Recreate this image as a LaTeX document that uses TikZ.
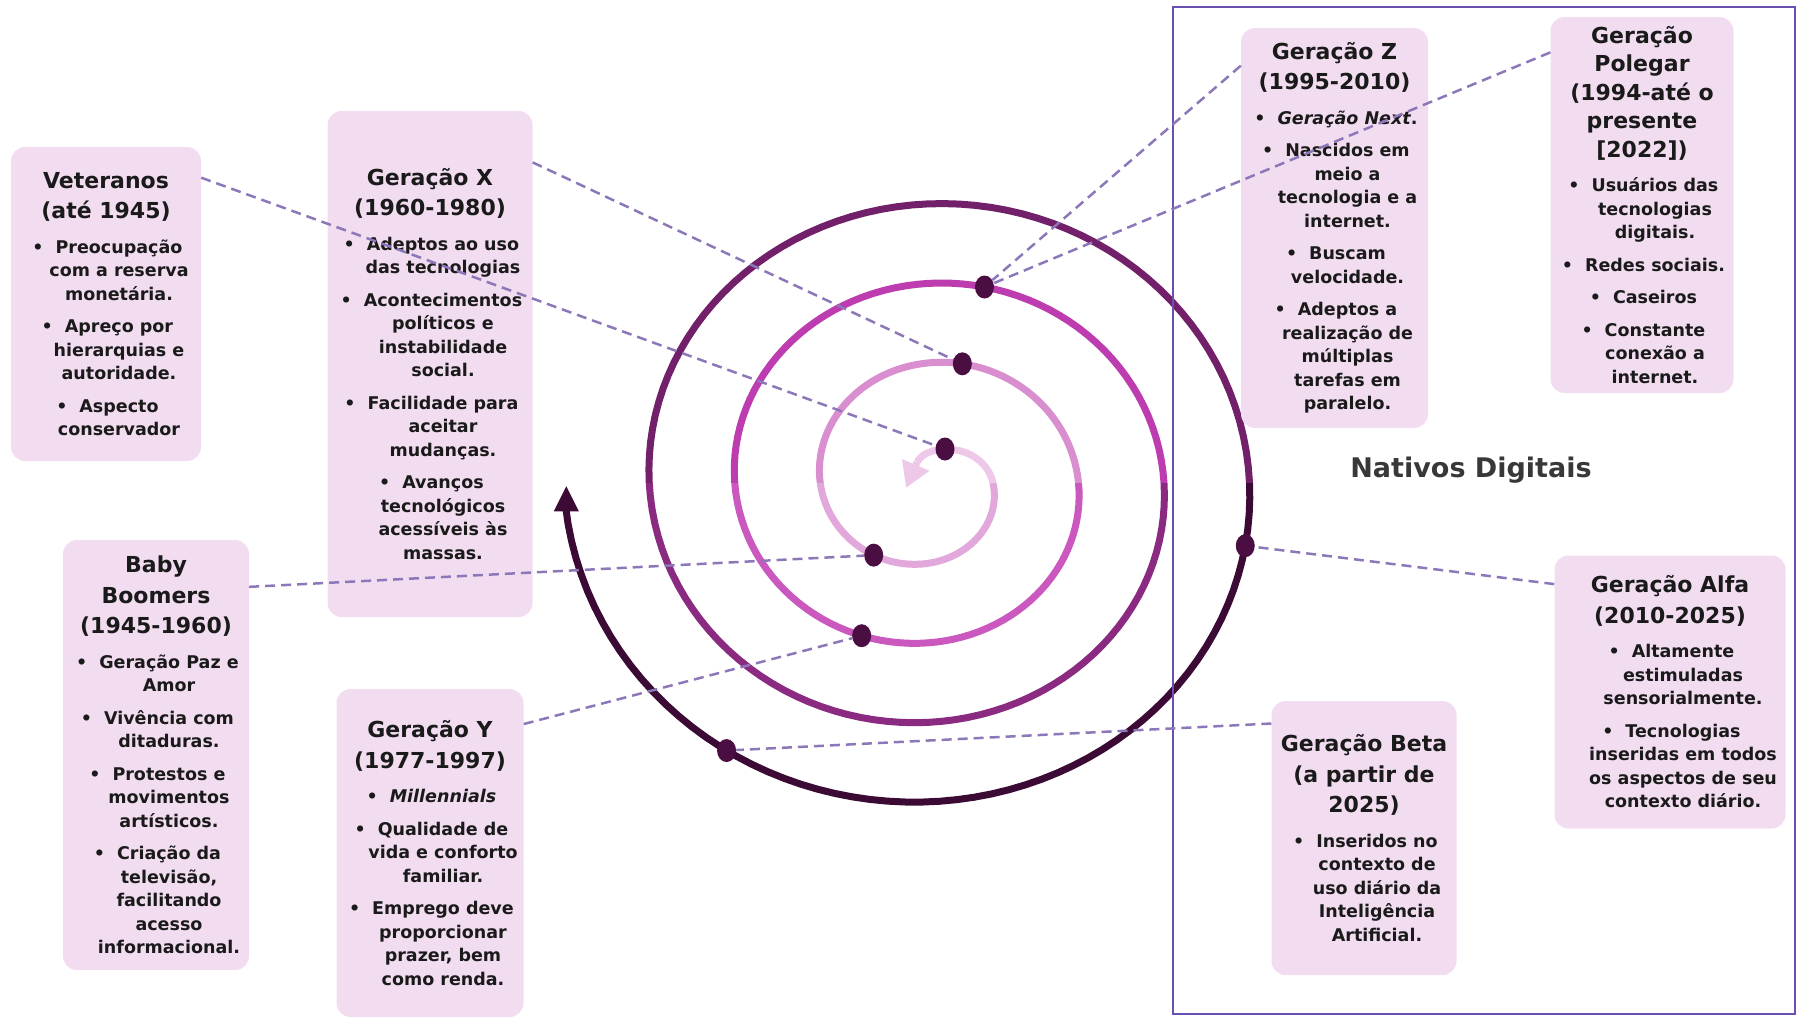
\documentclass[tikz,border=0pt]{standalone}
\usepackage{fontspec}
\setmainfont{DejaVu Sans}
\usetikzlibrary{shapes.geometric,arrows.meta,backgrounds}
\definecolor{boxfill}{HTML}{F2DDF0}
\definecolor{txt}{HTML}{1A1A1A}
\definecolor{connc}{HTML}{8C78B8}
\definecolor{rectc}{HTML}{6A50B0}
\definecolor{dotc}{HTML}{4A0E42}
\definecolor{sc0}{HTML}{EDC8E9}
\definecolor{sc1}{HTML}{E2A8DB}
\definecolor{sc2}{HTML}{D98ED0}
\definecolor{sc3}{HTML}{CA58BF}
\definecolor{sc4}{HTML}{BD3DB1}
\definecolor{sc5}{HTML}{8A2A80}
\definecolor{sc6}{HTML}{73206B}
\definecolor{sc7}{HTML}{3B0A35}
\newcommand{\genb}[1]{\hspace*{26pt}\llap{\textbullet\hspace{12pt}}#1}
\newcommand{\genc}[1]{\hspace*{26pt}#1}
\newcommand{\gent}[1]{{\fontsize{22}{23.5}\selectfont #1}}
\tikzset{
  gbox/.style={fill=boxfill, rounded corners=14pt, inner sep=0pt, align=center, text=txt,
    font=\bfseries\fontsize{17.5}{23.5}\selectfont},
  spl/.style={line width=7pt},
  connl/.style={draw=connc, line width=2.5pt, dash pattern=on 10pt off 6pt},
  dotn/.style={ellipse, fill=dotc, minimum width=19pt, minimum height=23pt, inner sep=0pt},
}
\begin{document}
\begin{tikzpicture}[x=1pt,y=-1pt,
  declare function={sr(\t)=65+0.2375*\t; spx(\t)=928+sr(\t)*cos(\t); spy(\t)=483+0.93*sr(\t)*sin(\t);}]
\useasboundingbox (0,0) rectangle (1798,1020);
% dots (main layer, on top)
\node[dotn] (d1) at (945,449) {};
\node[dotn] (d2) at ({spx(285)},{spy(285)}) {};
\node[dotn] (d3) at ({spx(645)},{spy(645)}) {};
\node[dotn] (d4) at ({spx(125)},{spy(125)}) {};
\node[dotn] (d5) at ({spx(472)},{spy(472)}) {};
\node[dotn] (d6) at ({spx(1092)},{spy(1092)}) {};
\node[dotn] (d7) at ({spx(1205)},{spy(1205)}) {};
\begin{pgfonlayer}{background}
% spiral
\draw[spl, sc0] (917,462) .. controls (929,441) and (984,444) .. (993,483);
\draw[sc0, line width=7pt, -{Triangle[length=25pt,width=28pt]}] (917,462) -- (906,488);
\draw[spl, sc1] plot[domain=0:180, samples=61, variable=\t] ({spx(\t)},{spy(\t)});
\draw[spl, sc2] plot[domain=180:360, samples=61, variable=\t] ({spx(\t)},{spy(\t)});
\draw[spl, sc3] plot[domain=360:540, samples=61, variable=\t] ({spx(\t)},{spy(\t)});
\draw[spl, sc4] plot[domain=540:720, samples=61, variable=\t] ({spx(\t)},{spy(\t)});
\draw[spl, sc5] plot[domain=720:900, samples=61, variable=\t] ({spx(\t)},{spy(\t)});
\draw[spl, sc6] plot[domain=900:1080, samples=61, variable=\t] ({spx(\t)},{spy(\t)});
\draw[spl, sc7] plot[domain=1080:1256, samples=61, variable=\t] ({spx(\t)},{spy(\t)});
\draw[sc7, line width=7pt, -{Triangle[length=26pt,width=23pt]}] ({spx(1255)},{spy(1255)}) -- ({spx(1255)},{spy(1255)-27});
% Nativos Digitais frame
\node[draw=rectc, line width=2.2pt, minimum width=622pt, minimum height=1007pt, inner sep=0pt] (nat) at (1484,510.5) {};
\node[text=black!78, font=\bfseries\fontsize{27}{32}\selectfont] (natl) at (1471,470) {Nativos Digitais};
% boxes
\node[gbox, minimum width=190pt, minimum height=314pt] (vet) at (106,304)
 {\gent{Veteranos}\\[7pt]\gent{(até 1945)}\\[11pt]\genb{Preocupação}\\\genc{com a reserva}\\\genc{monetária.}\\[9pt]\genb{Apreço por}\\\genc{hierarquias e}\\\genc{autoridade.}\\[9pt]\genb{Aspecto}\\\genc{conservador}};
\node[gbox, minimum width=205pt, minimum height=506pt] (gx) at (430,364)
 {\gent{Geração X}\\[7pt]\gent{(1960-1980)}\\[11pt]\genb{Adeptos ao uso}\\\genc{das tecnologias}\\[9pt]\genb{Acontecimentos}\\\genc{políticos e}\\\genc{instabilidade}\\\genc{social.}\\[9pt]\genb{Facilidade para}\\\genc{aceitar}\\\genc{mudanças.}\\[9pt]\genb{Avanços}\\\genc{tecnológicos}\\\genc{acessíveis às}\\\genc{massas.}};
\node[gbox, minimum width=186pt, minimum height=430pt] (bb) at (156,755)
 {\gent{Baby}\\[7pt]\gent{Boomers}\\[7pt]\gent{(1945-1960)}\\[11pt]\genb{Geração Paz e}\\\genc{Amor}\\[9pt]\genb{Vivência com}\\\genc{ditaduras.}\\[9pt]\genb{Protestos e}\\\genc{movimentos}\\\genc{artísticos.}\\[9pt]\genb{Criação da}\\\genc{televisão,}\\\genc{facilitando}\\\genc{acesso}\\\genc{informacional.}};
\node[gbox, minimum width=187pt, minimum height=328pt] (gy) at (430,853)
 {\gent{Geração Y}\\[7pt]\gent{(1977-1997)}\\[11pt]\genb{\textit{Millennials}}\\[9pt]\genb{Qualidade de}\\\genc{vida e conforto}\\\genc{familiar.}\\[9pt]\genb{Emprego deve}\\\genc{proporcionar}\\\genc{prazer, bem}\\\genc{como renda.}};
\node[gbox, minimum width=187pt, minimum height=400pt] (gz) at (1334.5,228)
 {\gent{Geração Z}\\[7pt]\gent{(1995-2010)}\\[11pt]\genb{\textit{Geração Next}.}\\[9pt]\genb{Nascidos em}\\\genc{meio a}\\\genc{tecnologia e a}\\\genc{internet.}\\[9pt]\genb{Buscam}\\\genc{velocidade.}\\[9pt]\genb{Adeptos a}\\\genc{realização de}\\\genc{múltiplas}\\\genc{tarefas em}\\\genc{paralelo.}};
\node[gbox, minimum width=183pt, minimum height=376pt] (gp) at (1642,205)
 {\gent{Geração}\\[5pt]\gent{Polegar}\\[5pt]\gent{(1994-até o}\\[5pt]\gent{presente}\\[5pt]\gent{[2022])}\\[11pt]\genb{Usuários das}\\\genc{tecnologias}\\\genc{digitais.}\\[9pt]\genb{Redes sociais.}\\[9pt]\genb{Caseiros}\\[9pt]\genb{Constante}\\\genc{conexão a}\\\genc{internet.}};
\node[gbox, minimum width=231pt, minimum height=273pt] (ga) at (1670,692)
 {\gent{Geração Alfa}\\[7pt]\gent{(2010-2025)}\\[11pt]\genb{Altamente}\\\genc{estimuladas}\\\genc{sensorialmente.}\\[9pt]\genb{Tecnologias}\\\genc{inseridas em todos}\\\genc{os aspectos de seu}\\\genc{contexto diário.}};
\node[gbox, minimum width=185pt, minimum height=274pt] (gbeta) at (1364,838)
 {\gent{Geração Beta}\\[7pt]\gent{(a partir de}\\[7pt]\gent{2025)}\\[11pt]\genb{Inseridos no}\\\genc{contexto de}\\\genc{uso diário da}\\\genc{Inteligência}\\\genc{Artificial.}};
% connectors
\draw[connl] (vet.53.6) -- (d1);
\draw[connl] (gx.63.3) -- (d2);
\draw[connl] (bb.61.6) -- (d4);
\draw[connl] (gy.54.6) -- (d5);
\draw[connl] (gz.120.5) -- (d3);
\draw[connl] (gp.121.6) -- (d3);
\draw[connl] (ga.137.3) -- (d6);
\draw[connl] (gbeta.129.7) -- (d7);
\end{pgfonlayer}
\end{tikzpicture}
\end{document}
